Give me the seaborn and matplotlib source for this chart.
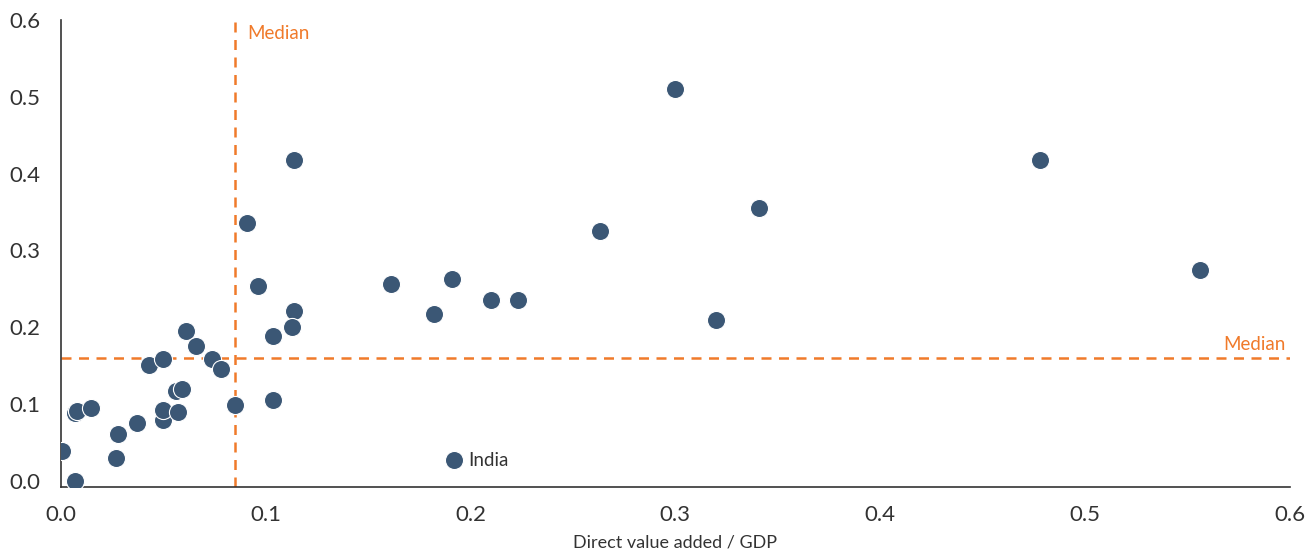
import matplotlib
matplotlib.use('Agg')
import matplotlib.pyplot as plt
import seaborn as sns
import pandas as pd

# Direct value added / GDP (x) vs. second ratio (y), one point per country
x_vals = [0.0005, 0.007, 0.007, 0.008, 0.0146, 0.028, 0.027, 0.037, 0.043, 0.050,
          0.050, 0.050, 0.057, 0.056, 0.059, 0.061, 0.066, 0.074, 0.078, 0.085,
          0.091, 0.096, 0.1035, 0.1035, 0.114, 0.114, 0.113, 0.161, 0.182, 0.191,
          0.192, 0.210, 0.223, 0.263, 0.300, 0.320, 0.341, 0.478, 0.556]
y_vals = [0.039, 0.000, 0.088, 0.091, 0.095, 0.061, 0.030, 0.075, 0.151, 0.159,
          0.079, 0.092, 0.089, 0.117, 0.120, 0.195, 0.176, 0.159, 0.146, 0.099,
          0.336, 0.254, 0.189, 0.105, 0.418, 0.221, 0.200, 0.256, 0.217, 0.263,
          0.027, 0.236, 0.236, 0.325, 0.510, 0.210, 0.355, 0.418, 0.275]
labels = [''] * len(x_vals)
labels[30] = 'India'

median_x = 0.085
median_y = 0.160

ticks = [0.0, 0.1, 0.2, 0.3, 0.4, 0.5, 0.6]
tick_labels = ['0.0', '0.1', '0.2', '0.3', '0.4', '0.5', '0.6']

POINT = '#3b5775'
ORANGE = '#f07a2a'

df = pd.DataFrame({'x': x_vals, 'y': y_vals, 'label': labels})

sns.set_style('white')
plt.rcParams['font.family'] = ['Lato', 'DejaVu Sans']

fig = plt.figure(figsize=(13.08, 5.57), dpi=100)
ax = fig.add_axes([0.0466, 0.1257, 0.9394, 0.8383])

sns.scatterplot(data=df, x='x', y='y', s=170, color=POINT, edgecolor='white',
                linewidth=0.8, ax=ax, zorder=3)

ax.axvline(median_x, color=ORANGE, ls=(0, (4, 3)), lw=1.8, zorder=2)
ax.axhline(median_y, color=ORANGE, ls=(0, (4, 3)), lw=1.8, zorder=2)
ax.text(median_x + 0.006, 0.583, 'Median', color=ORANGE, fontsize=13.5, va='center')
ax.text(0.598, median_y + 0.006, 'Median', color=ORANGE, fontsize=13.5, ha='right',
        va='bottom')

for _, r in df[df['label'] != ''].iterrows():
    ax.text(r['x'] + 0.007, r['y'], r['label'], fontsize=13.5, color='#333333',
            va='center')

ax.set_xlim(0, 0.6)
ax.set_ylim(-0.008, 0.6)
ax.set_xticks(ticks)
ax.set_xticklabels(tick_labels)
ax.set_yticks(ticks)
ax.set_yticklabels(tick_labels)
ax.tick_params(axis='both', length=0, labelsize=16, labelcolor='#333333')
ax.tick_params(axis='y', pad=15)
ax.tick_params(axis='x', pad=13)
ax.set_xlabel('Direct value added / GDP', fontsize=13, color='#333333', labelpad=7)
ax.set_ylabel('')

for side in ['top', 'right']:
    ax.spines[side].set_visible(False)
for side in ['left', 'bottom']:
    ax.spines[side].set_color('#333333')
    ax.spines[side].set_linewidth(1.2)

fig.savefig('out.png', dpi=100)
